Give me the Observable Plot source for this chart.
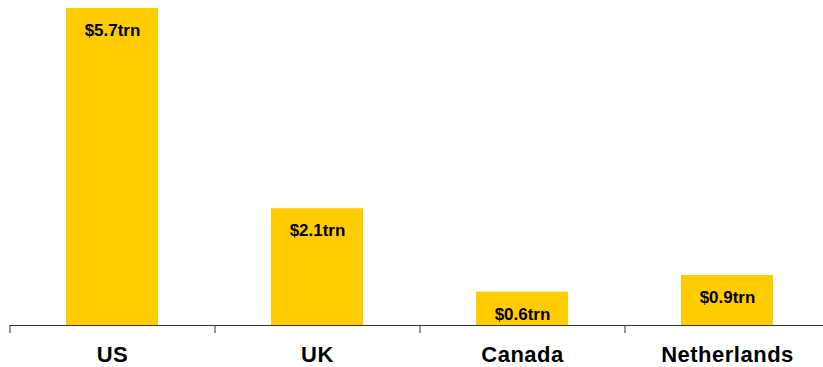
<!DOCTYPE html>
<html>
<head>
<meta charset="utf-8">
<script src="https://cdn.jsdelivr.net/npm/d3@7"></script>
<script src="https://cdn.jsdelivr.net/npm/@observablehq/plot@0.6"></script>
<style>
  html, body { margin: 0; padding: 0; background: #fff; }
  #chart svg { display: block; }
</style>
</head>
<body>
<div id="chart"></div>
<script>
const countries = ["US", "UK", "Canada", "Netherlands"];
const values = [5.7, 2.1, 0.6, 0.9];
const valueLabels = ["$5.7trn", "$2.1trn", "$0.6trn", "$0.9trn"];

const data = countries.map((c, i) => ({country: c, value: values[i], label: valueLabels[i]}));

const W = 823, H = 367;
const xRange = [10, 830];
const bandW = (xRange[1] - xRange[0]) / countries.length;

const chart = Plot.plot({
  width: W,
  height: H,
  marginLeft: 10,
  marginRight: 0,
  marginTop: 8,
  marginBottom: 42,
  style: {fontFamily: "Liberation Sans, Arial, sans-serif", background: "#fff", overflow: "visible"},
  x: {domain: countries, range: xRange, paddingInner: 0.55, paddingOuter: 0.275},
  y: {domain: [0, 5.7], axis: null},
  marks: [
    Plot.barY(data, {x: "country", y: "value", fill: "#FFCC00"}),
    Plot.text(data, {x: "country", y: "value", text: "label", dy: 22, fontSize: 17, fontWeight: "bold", fill: "#000", style: "letter-spacing:0.9px"}),
    Plot.ruleY([0], {stroke: "#333", strokeWidth: 1}),
    Plot.ruleX(countries, {x: d => d, dx: -bandW / 2, y1: 0, y2: 0, insetBottom: -8, stroke: "#333", strokeWidth: 1}),
    Plot.axisX({tickSize: 0, tickPadding: 21, fontSize: 22, fontWeight: "bold", label: null, fill: "#000"})
  ]
});
chart.querySelectorAll("text").forEach(t => t.style.letterSpacing = t.closest("[aria-label='x-axis tick label']") ? "0.5px" : t.style.letterSpacing);
document.getElementById("chart").appendChild(chart);
</script>
</body>
</html>
